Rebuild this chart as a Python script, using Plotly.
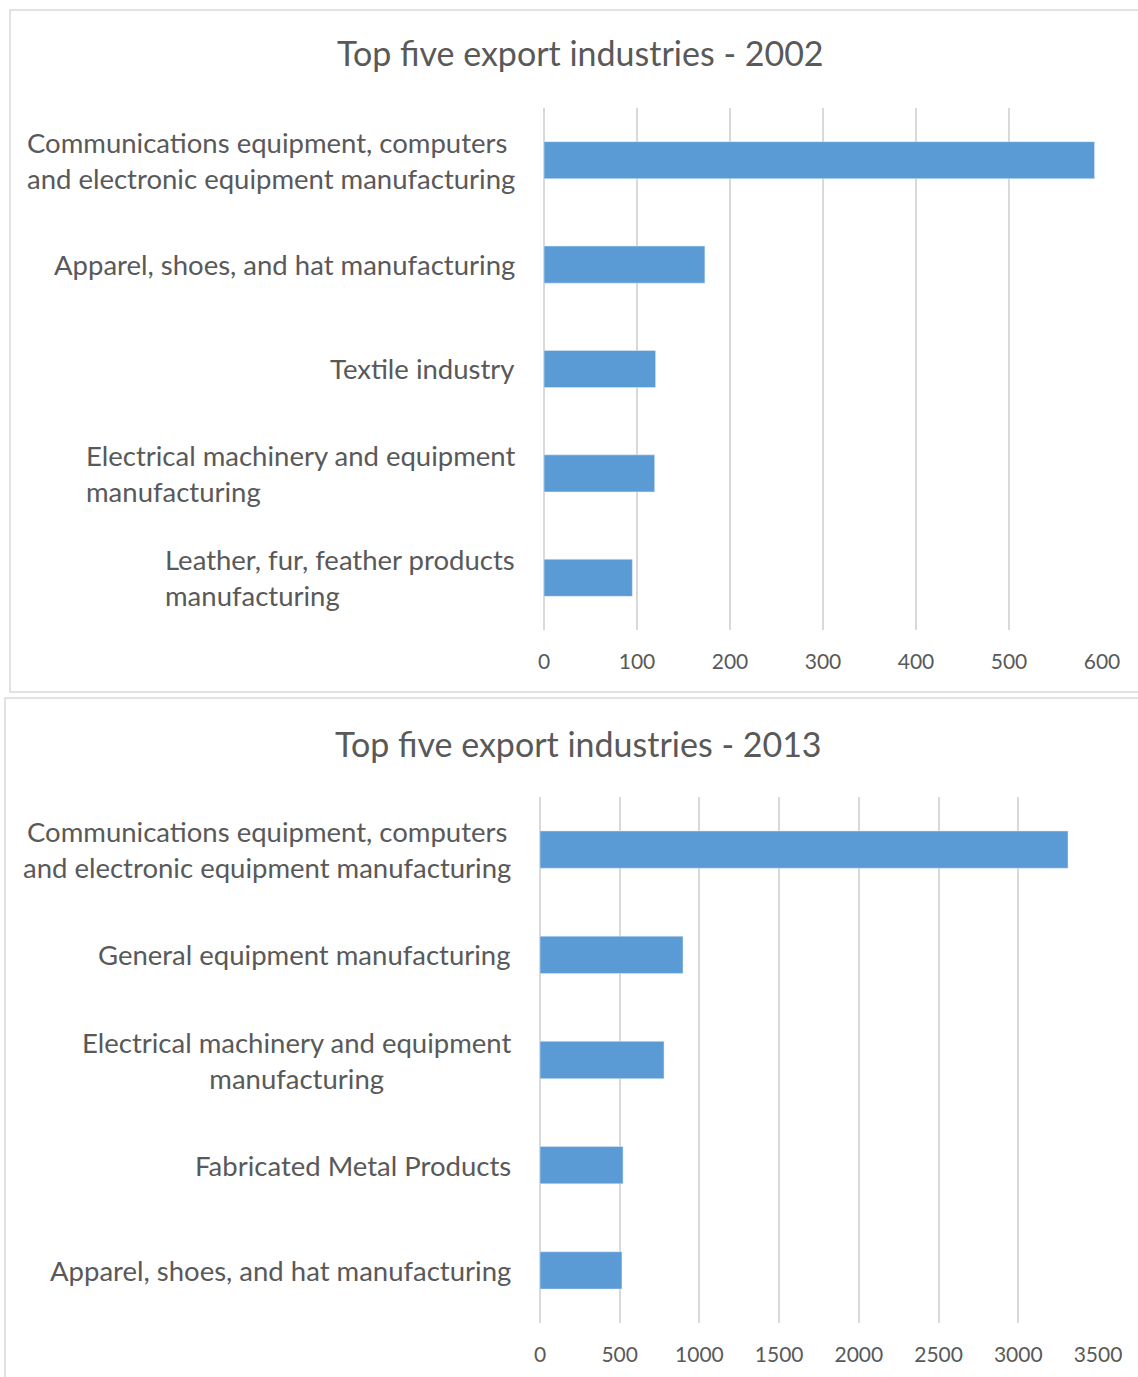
import plotly.graph_objects as go

# data
industries_2002 = [
    "Communications equipment, computers<br>and electronic equipment manufacturing",
    "Apparel, shoes, and hat manufacturing",
    "Textile industry",
    "Electrical machinery and equipment<br>manufacturing",
    "Leather, fur, feather products<br>manufacturing",
]
values_2002 = [592, 173, 120, 119, 95]

industries_2013 = [
    "Communications equipment, computers<br>and electronic equipment manufacturing",
    "General equipment manufacturing",
    "Electrical machinery and equipment<br>manufacturing",
    "Fabricated Metal Products",
    "Apparel, shoes, and hat manufacturing",
]
values_2013 = [3312, 897, 778, 521, 514]

titles = ["Top five export industries - 2002", "Top five export industries - 2013"]

W, H = 1138, 1377
BAR = "#5B9BD5"
TXT = "#595959"
GRID = "#D9D9D9"
FONT = "Lato"


def px(x):
    # page pixel -> paper fraction
    return x / W


def py(y):
    return 1 - y / H


fig = go.Figure()

fig.add_trace(go.Bar(x=values_2002, y=industries_2002, orientation="h",
                     marker_color=BAR, xaxis="x", yaxis="y", hoverinfo="x"))
fig.add_trace(go.Bar(x=values_2013, y=industries_2013, orientation="h",
                     marker_color=BAR, xaxis="x2", yaxis="y2", hoverinfo="x"))

# automargin off, otherwise the edge tick labels push the plot area inwards
xcommon = dict(showgrid=True, gridcolor=GRID, gridwidth=1.5, zeroline=True,
               zerolinecolor=GRID, zerolinewidth=1.5, showline=False, ticks="",
               tickfont=dict(size=21, color=TXT, family=FONT),
               ticklabelstandoff=17, automargin=False, fixedrange=True)
ycommon = dict(showticklabels=False, showgrid=False, zeroline=False,
               autorange="reversed", ticks="", automargin=False, fixedrange=True)

fig.update_layout(
    width=W, height=H, autosize=False,
    margin=dict(l=0, r=0, t=0, b=0, pad=0),
    paper_bgcolor="white", plot_bgcolor="white",
    showlegend=False, bargap=0.645,
    font=dict(family=FONT, color=TXT),
    xaxis=dict(domain=[px(544), px(1102)], range=[0, 600], dtick=100,
               anchor="y", **xcommon),
    yaxis=dict(domain=[py(630), py(108)], anchor="x", **ycommon),
    xaxis2=dict(domain=[px(540), px(1098)], range=[0, 3500], dtick=500,
                anchor="y2", **xcommon),
    yaxis2=dict(domain=[py(1323), py(797)], anchor="x2", **ycommon),
)

# chart borders (they run off the right edge, as in the original)
fig.add_shape(type="rect", xref="paper", yref="paper",
              x0=px(10), x1=1.02, y0=py(692), y1=py(10),
              line=dict(color=GRID, width=1.5))
fig.add_shape(type="rect", xref="paper", yref="paper",
              x0=px(5), x1=1.02, y0=-0.05, y1=py(698),
              line=dict(color=GRID, width=1.5))

# titles
fig.add_annotation(text=titles[0], xref="paper", yref="paper", x=px(580), y=py(53),
                   yanchor="middle", showarrow=False,
                   font=dict(size=34, color=TXT, family=FONT))
fig.add_annotation(text=titles[1], xref="paper", yref="paper", x=px(578), y=py(743),
                   yanchor="middle", showarrow=False,
                   font=dict(size=34, color=TXT, family=FONT))

# category labels (as annotations so that multi-line alignment can be controlled)
for name in industries_2002:
    fig.add_annotation(text=name, xref="paper", yref="y", x=px(517), y=name,
                       xanchor="right", align="left", showarrow=False,
                       font=dict(size=27.5, color=TXT, family=FONT))
for name in industries_2013:
    fig.add_annotation(text=name, xref="paper", yref="y2", x=px(513), y=name,
                       xanchor="right", align="center", showarrow=False,
                       font=dict(size=27.5, color=TXT, family=FONT))

# figure is exactly window-sized: fixed size, no page margin, no scrollbars
fig.write_html(
    "out.html",
    config={"responsive": False, "displayModeBar": False},
    default_width=f"{W}px", default_height=f"{H}px",
    post_script="document.body.style.margin='0';document.body.style.overflow='hidden';",
)
